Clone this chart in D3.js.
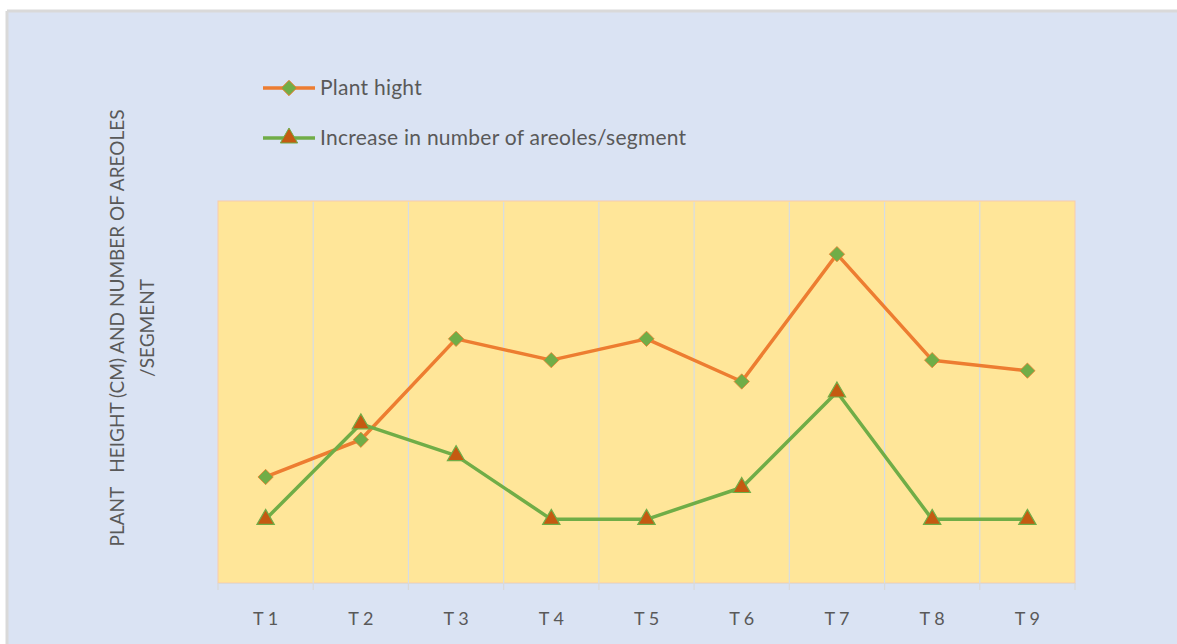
<!DOCTYPE html>
<html>
<head>
<meta charset="utf-8">
<script src="https://cdn.jsdelivr.net/npm/d3@7"></script>
<style>
  html, body { margin: 0; padding: 0; background: #ffffff; }
  svg { display: block; font-family: Lato, "Open Sans", sans-serif; }
</style>
</head>
<body>
<svg id="chart" width="1177" height="644"></svg>
<script>
const categories = ["T 1", "T 2", "T 3", "T 4", "T 5", "T 6", "T 7", "T 8", "T 9"];
const plantHeight = [3.33, 4.5, 7.67, 7, 7.67, 6.33, 10.33, 7, 6.67];
const areoles = [2, 5, 4, 2, 2, 3, 6, 2, 2];
const seriesNames = ["Plant hight", "Increase in number of areoles/segment"];

const svg = d3.select("#chart");
const W = 1177, H = 644;

// chart area background with grey frame on top/left
svg.append("rect").attr("x", 7).attr("y", 11).attr("width", W - 7).attr("height", H - 11)
  .attr("fill", "#dae3f3");
svg.append("line").attr("x1", 7).attr("x2", W).attr("y1", 11).attr("y2", 11)
  .attr("stroke", "#d9d9d9").attr("stroke-width", 3);
svg.append("line").attr("x1", 7).attr("x2", 7).attr("y1", 11).attr("y2", H)
  .attr("stroke", "#d9d9d9").attr("stroke-width", 3);

const plot = { left: 218, right: 1075, top: 201, bottom: 583 };

const x = d3.scaleBand().domain(categories).range([plot.left, plot.right]);
const y = d3.scaleLinear().domain([0, 12]).range([plot.bottom, plot.top]);
const cx = d => x(d) + x.bandwidth() / 2;

// plot area
svg.append("rect")
  .attr("x", plot.left).attr("y", plot.top)
  .attr("width", plot.right - plot.left).attr("height", plot.bottom - plot.top)
  .attr("fill", "#ffe699").attr("stroke", "#f8cbad").attr("stroke-width", 1);

// vertical gridlines on category boundaries
const bounds = categories.slice(1).map(c => x(c));
svg.append("g").selectAll("line").data(bounds).join("line")
  .attr("x1", d => d).attr("x2", d => d)
  .attr("y1", plot.top + 1).attr("y2", plot.bottom)
  .attr("stroke", "#d6dce5").attr("stroke-width", 1.2);

// x axis
const gx = svg.append("g").attr("transform", `translate(0,${plot.bottom})`)
  .call(d3.axisBottom(x).tickSize(0).tickPadding(29));
gx.select(".domain").attr("stroke", "#d9d9d9").attr("stroke-width", 1.2);
gx.selectAll("text").attr("fill", "#595959").attr("font-size", 18)
  .attr("font-family", "Lato, sans-serif");
svg.append("g").selectAll("line").data([plot.left, ...bounds, plot.right]).join("line")
  .attr("x1", d => d).attr("x2", d => d)
  .attr("y1", plot.bottom).attr("y2", plot.bottom + 7)
  .attr("stroke", "#d9d9d9").attr("stroke-width", 1.2);

// y axis title
const yt = svg.append("text")
  .attr("transform", "translate(117,328) rotate(-90)")
  .attr("text-anchor", "middle").attr("fill", "#595959").attr("font-size", 19);
yt.append("tspan").attr("x", 0).attr("dy", "0.35em")
  .text("PLANT\u00a0\u00a0\u00a0HEIGHT (CM) AND NUMBER OF AREOLES");
yt.append("tspan").attr("x", 0).attr("dy", 30).text("/SEGMENT");

// lines
const line = d3.line().x((d, i) => cx(categories[i])).y(d => y(d));
svg.append("path").datum(plantHeight).attr("d", line)
  .attr("fill", "none").attr("stroke", "#ed7d31").attr("stroke-width", 3.5).attr("stroke-linejoin", "round");
svg.append("path").datum(areoles).attr("d", line)
  .attr("fill", "none").attr("stroke", "#70ad47").attr("stroke-width", 3.5).attr("stroke-linejoin", "round");

const diamond = d3.symbol().type(d3.symbolDiamond2).size(150);
const triangle = d3.symbol().type(d3.symbolTriangle).size(130);

svg.append("g").selectAll("path").data(plantHeight).join("path")
  .attr("d", diamond)
  .attr("transform", (d, i) => `translate(${cx(categories[i])},${y(d)})`)
  .attr("fill", "#70ad47").attr("stroke", "#ed7d31").attr("stroke-width", 0.8);

svg.append("g").selectAll("path").data(areoles).join("path")
  .attr("d", triangle)
  .attr("transform", (d, i) => `translate(${cx(categories[i])},${y(d)})`)
  .attr("fill", "#c55a11").attr("stroke", "#70ad47").attr("stroke-width", 1.2);

// legend
const legend = svg.append("g");
const legItems = [
  { name: seriesNames[0], color: "#ed7d31", sym: diamond, fill: "#70ad47", stroke: "#ed7d31", y: 88 },
  { name: seriesNames[1], color: "#70ad47", sym: triangle, fill: "#c55a11", stroke: "#70ad47", y: 138 }
];
legItems.forEach(it => {
  legend.append("line").attr("x1", 263).attr("x2", 315).attr("y1", it.y).attr("y2", it.y)
    .attr("stroke", it.color).attr("stroke-width", 3.5);
  legend.append("path").attr("d", it.sym).attr("transform", `translate(289,${it.y})`)
    .attr("fill", it.fill).attr("stroke", it.stroke).attr("stroke-width", 1);
  legend.append("text").attr("x", 320).attr("y", it.y).attr("dy", "0.35em")
    .attr("fill", "#595959").attr("font-size", 21).attr("letter-spacing", 0.25).text(it.name);
});
</script>
</body>
</html>
